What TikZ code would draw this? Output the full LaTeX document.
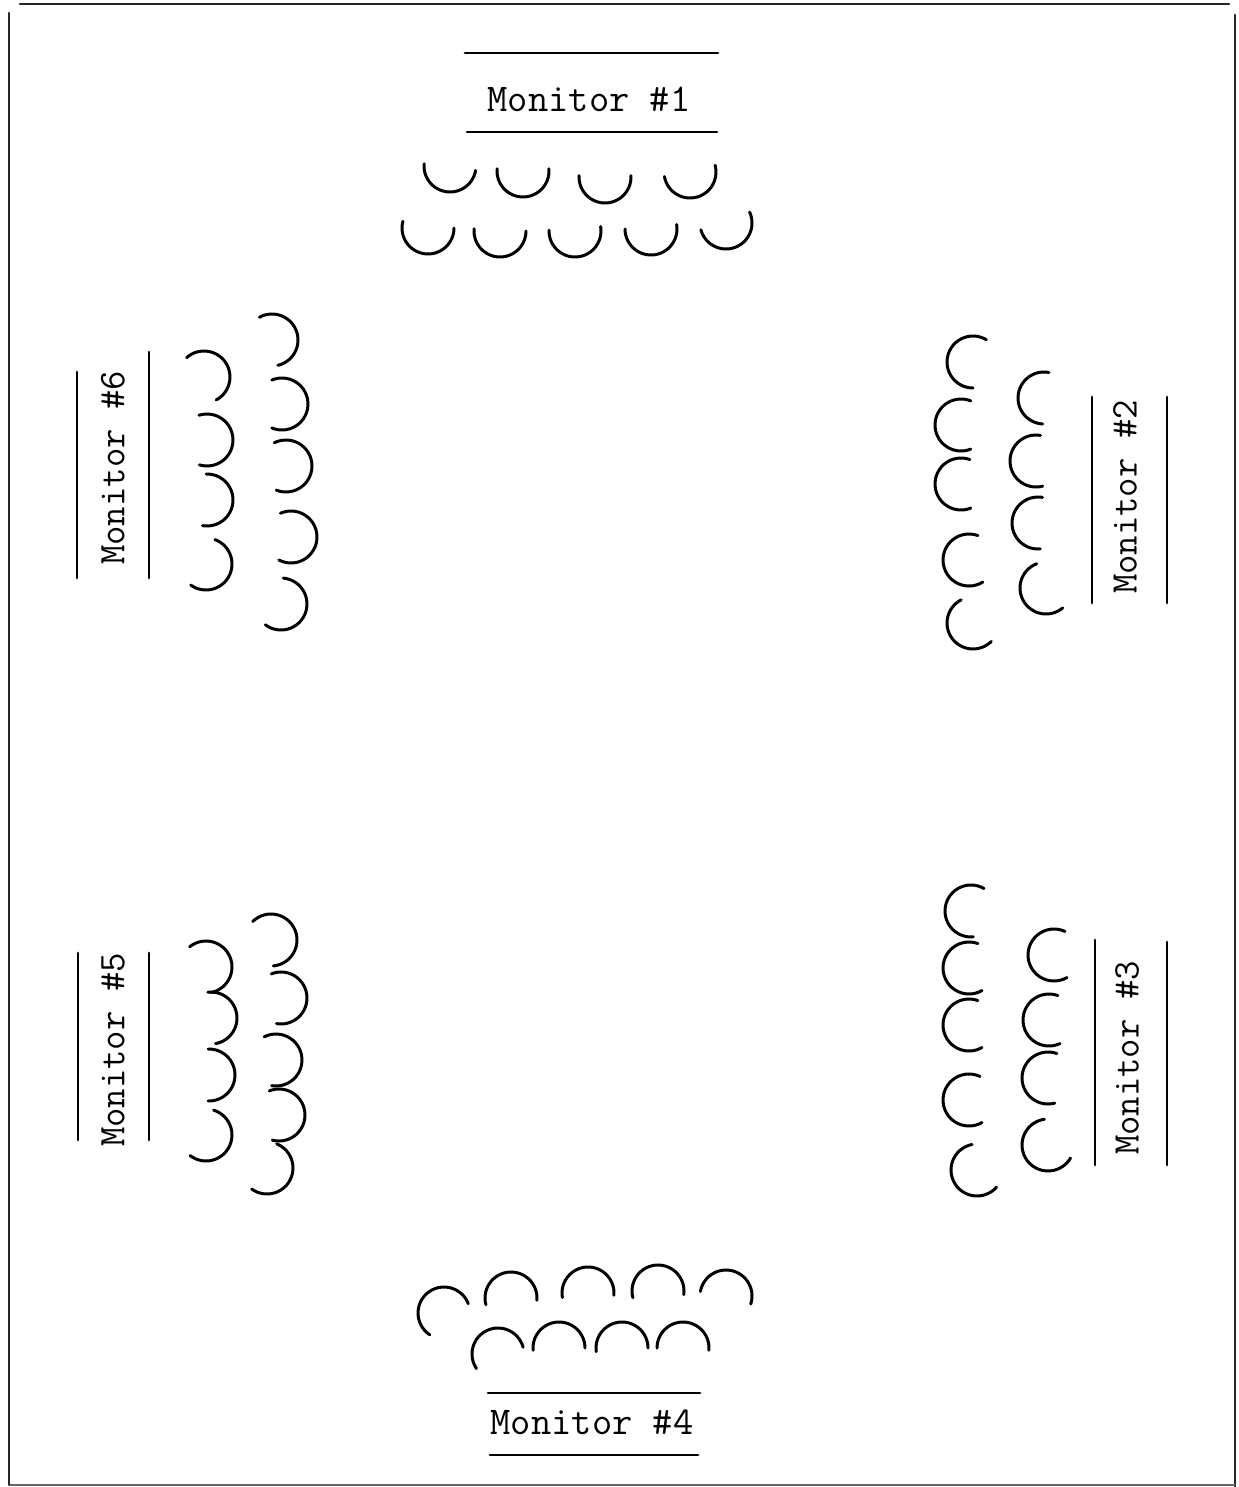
\documentclass[tikz,border=0pt]{standalone}
\usepackage{fontspec}
\begin{document}
\begin{tikzpicture}[x=0.02cm,y=-0.02cm,line cap=round,
  seatline/.style={line width=1.7pt,black},
  bar/.style={line width=1.6pt,black},
  framel/.style={line width=1.2pt,black!85},
  lab/.style={font=\ttfamily\fontsize{22.4pt}{24pt}\selectfont,inner sep=0pt},
  slab/.style={font=\ttfamily\fontsize{21.4pt}{23pt}\selectfont,inner sep=0pt,rotate=90}]
\useasboundingbox (0,0) rectangle (1239,1487);
\newcommand\seat[4]{\draw[seatline] plot[domain=#3:#4,samples=30,smooth] ({#1+26*cos(\x)},{#2+26*sin(\x)});}
% frame
\draw[framel] (20,4) -- (1229,4);
\draw[framel] (9,13) -- (9,1485);
\draw[framel] (1235,15) -- (1235,1487);
\draw[framel,black!60,line width=0.8pt] (10,1485) -- (1235,1485);
% Monitor 1
\node[lab] (m1) at (589,99) {Monitor \#1};
\draw[bar] (465,53) -- (718,53);
\draw[bar] (467,132) -- (717,132);
\seat{450}{166}{10}{185}
\seat{523}{171}{-5}{185}
\seat{605}{177}{-3}{183}
\seat{690}{172}{-15}{170}
\seat{428}{228}{0}{195}
\seat{500}{231}{0}{185}
\seat{575}{231}{-10}{182}
\seat{651}{229}{-10}{180}
\seat{726}{223}{-25}{165}
% Monitor 4
\node[lab] (m4) at (592,1422) {Monitor \#4};
\draw[bar] (488,1393) -- (700,1393);
\draw[bar] (490,1455) -- (698,1455);
\seat{444}{1313}{123}{339}
\seat{511}{1298}{165}{365}
\seat{588}{1293}{170}{365}
\seat{658}{1291}{165}{368}
\seat{726}{1296}{190}{378}
\seat{498}{1354}{146}{345}
\seat{559}{1348}{175}{360}
\seat{622}{1348}{172}{360}
\seat{683}{1348}{180}{365}
% Monitor 6
\node[slab] (m6) at (113,468) {Monitor \#6};
\draw[bar] (77,372) -- (77,578);
\draw[bar] (149,352) -- (149,578);
\seat{204}{377}{-132}{62}
\seat{207}{440}{-108}{107}
\seat{207}{500}{-92}{100}
\seat{206}{564}{-70}{126}
\seat{272}{340}{-119}{77}
\seat{282}{404}{-113}{113}
\seat{286}{466}{-117}{112}
\seat{291}{537}{-114}{118}
\seat{281}{604}{-85}{127}
% Monitor 5
\node[slab] (m5) at (113,1050) {Monitor \#5};
\draw[bar] (78,953) -- (78,1140);
\draw[bar] (149,953) -- (149,1140);
\seat{206}{967}{-129}{79}
\seat{211}{1018}{-97}{80}
\seat{209}{1075}{-92}{92}
\seat{206}{1135}{-73}{128}
\seat{271}{940}{-135}{85}
\seat{281}{998}{-112}{100}
\seat{276}{1060}{-117}{100}
\seat{279}{1115}{-112}{105}
\seat{267}{1168}{-68}{126}
% Monitor 2
\node[slab] (m2) at (1125,497) {Monitor \#2};
\draw[bar] (1092,397) -- (1092,603);
\draw[bar] (1167,397) -- (1167,603);
\seat{973}{362}{90}{301}
\seat{961}{425}{68}{292}
\seat{961}{484}{68}{290}
\seat{969}{560}{58}{290}
\seat{973}{623}{45}{243}
\seat{1044}{398}{93}{281}
\seat{1036}{461}{75}{280}
\seat{1038}{523}{85}{280}
\seat{1046}{588}{50}{249}
% Monitor 3
\node[slab] (m3) at (1127,1058) {Monitor \#3};
\draw[bar] (1095,940) -- (1095,1165);
\draw[bar] (1167,942) -- (1167,1165);
\seat{971}{911}{85}{300}
\seat{969}{968}{60}{290}
\seat{969}{1025}{60}{290}
\seat{969}{1100}{60}{295}
\seat{977}{1170}{41}{259}
\seat{1054}{955}{60}{295}
\seat{1049}{1020}{65}{290}
\seat{1048}{1078}{75}{290}
\seat{1048}{1145}{30}{262}
\end{tikzpicture}
\end{document}
